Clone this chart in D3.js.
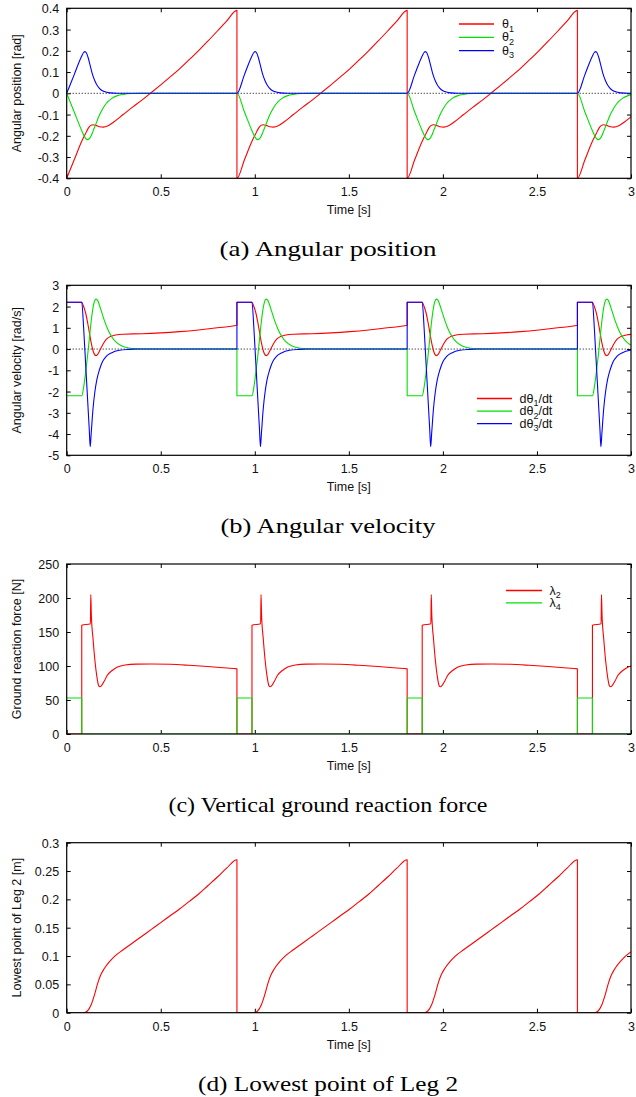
<!DOCTYPE html>
<html>
<head>
<meta charset="utf-8">
<script src="https://cdn.jsdelivr.net/npm/d3@7"></script>
<style>
  body { margin: 0; background: #fff; }
  svg { display: block; font-family: "Liberation Sans", Arial, sans-serif; }
  .tick text { font-size: 12.5px; fill: #111; }
  .tick line { stroke: #000; }
  .caption { font-family: "Liberation Serif", "Times New Roman", serif; font-size: 22px; fill: #000; }
</style>
</head>
<body>
<svg id="chart" width="636" height="1097"></svg>
<script>
// ======== DATA (one gait cycle, repeated every stride) ========
const period = 0.905;              // stride period [s]
const cycleIndex = [0, 1, 2, 3];   // strides visible between 0 and 3 s

const timeTicks = [0, 0.5, 1, 1.5, 2, 2.5, 3];
const posTicks = [-0.4, -0.3, -0.2, -0.1, 0, 0.1, 0.2, 0.3, 0.4];
const velTicks = [-5, -4, -3, -2, -1, 0, 1, 2, 3];
const forceTicks = [0, 50, 100, 150, 200, 250];
const heightTicks = [0, 0.05, 0.1, 0.15, 0.2, 0.25, 0.3];

// (a) angular position [rad], [t, value] within one stride
const theta1 = [[0,-0.4],[0.04,-0.313],[0.08,-0.226],[0.1,-0.19],[0.115,-0.164],[0.128,-0.151],[0.14,-0.148],
  [0.155,-0.151],[0.175,-0.157],[0.194,-0.159],[0.22,-0.153],[0.25,-0.135],[0.3,-0.1],[0.35,-0.065],[0.4,-0.032],
  [0.445,0],[0.5,0.04],[0.55,0.077],[0.6,0.115],[0.65,0.157],[0.7,0.2],[0.75,0.245],[0.8,0.292],[0.85,0.34],[0.905,0.39]];
const theta2 = [[0,0],[0.04,-0.088],[0.08,-0.176],[0.095,-0.205],[0.11,-0.218],[0.12,-0.214],[0.13,-0.2],
  [0.14,-0.178],[0.155,-0.145],[0.17,-0.11],[0.19,-0.075],[0.21,-0.048],[0.24,-0.024],[0.27,-0.011],[0.3,-0.005],
  [0.35,-0.001],[0.4,0],[0.905,0]];
const theta3 = [[0,0],[0.04,0.088],[0.08,0.176],[0.09,0.192],[0.097,0.196],[0.105,0.19],[0.115,0.165],[0.125,0.13],
  [0.135,0.095],[0.15,0.058],[0.165,0.033],[0.18,0.018],[0.2,0.008],[0.23,0.002],[0.27,0],[0.905,0]];

// (b) angular velocity [rad/s]
const omega1 = [[0,2.2],[0.08,2.2],[0.09,2.0],[0.1,1.72],[0.11,1.3],[0.12,0.8],[0.13,0.3],[0.14,-0.08],[0.15,-0.28],
  [0.157,-0.31],[0.165,-0.25],[0.177,-0.05],[0.19,0.18],[0.21,0.45],[0.23,0.58],[0.26,0.66],[0.3,0.7],[0.4,0.72],
  [0.5,0.76],[0.6,0.82],[0.7,0.9],[0.8,1.0],[0.905,1.12]];
const omega2 = [[0,-2.2],[0.08,-2.2],[0.09,-1.8],[0.1,-1.15],[0.11,-0.4],[0.12,0.45],[0.13,1.3],[0.14,1.95],
  [0.15,2.3],[0.157,2.35],[0.165,2.28],[0.18,1.9],[0.2,1.35],[0.22,0.9],[0.24,0.57],[0.26,0.35],[0.29,0.16],
  [0.33,0.05],[0.38,0.01],[0.42,0],[0.905,0]];
const omega3 = [[0,2.2],[0.08,2.2],[0.09,1.0],[0.1,-0.6],[0.11,-2.2],[0.12,-3.8],[0.125,-4.6],[0.13,-4.0],
  [0.14,-2.8],[0.15,-2.0],[0.16,-1.45],[0.175,-0.95],[0.19,-0.6],[0.21,-0.35],[0.24,-0.17],[0.28,-0.06],
  [0.33,-0.015],[0.38,0],[0.905,0]];

// (c) vertical ground reaction force [N]
const lambda2 = [[0,0],[0.08,0],[0.08,160],[0.126,162],[0.128,205],[0.131,175],[0.14,140],[0.15,108],[0.16,85],
  [0.17,71],[0.176,69.5],[0.185,71],[0.2,78],[0.215,86],[0.24,93],[0.27,98.5],[0.31,101.5],[0.37,102.8],
  [0.45,103],[0.55,102.5],[0.65,101],[0.75,99.2],[0.85,97],[0.905,95.8]];
const lambda4 = [[0,53],[0.08,53],[0.08,0],[0.905,0]];

// (d) lowest point of leg 2 [m]
const lowest2 = [[0,0],[0.09,0],[0.11,0.003],[0.13,0.014],[0.15,0.034],[0.163,0.05],[0.18,0.066],[0.2,0.078],
  [0.23,0.091],[0.256,0.1],[0.3,0.111],[0.35,0.123],[0.4,0.135],[0.45,0.147],[0.5,0.159],[0.55,0.171],
  [0.6,0.183],[0.65,0.196],[0.7,0.209],[0.75,0.224],[0.8,0.239],[0.85,0.255],[0.905,0.27]];

// ======== LAYOUT ========
const W = 636, H = 1097;
const LEFT = 66.7, RIGHT = 631, PH = 170;
const RED = '#ff0000', GREEN = '#00e000', BLUE = '#0000ff';

// repeat one stride over the visible strides
const tile = cycle => cycleIndex.flatMap(k => cycle.map(([t, v]) => [t + k * period, v]));

const panels = [
  { top: 8.3, domain: [-0.4, 0.4], ticks: posTicks, yLabel: 'Angular position [rad]', zero: true,
    series: [
      { data: theta1, color: RED, label: ['θ', '1', ''] },
      { data: theta2, color: GREEN, label: ['θ', '2', ''] },
      { data: theta3, color: BLUE, label: ['θ', '3', ''] }],
    legend: { x1: 459, x2: 494, tx: 502, y: 24, dy: 13.3 },
    caption: '(a) Angular position', capW: 217 },
  { top: 285.3, domain: [-5, 3], ticks: velTicks, yLabel: 'Angular velocity [rad/s]', zero: true,
    series: [
      { data: omega1, color: RED, label: ['dθ', '1', '/dt'] },
      { data: omega2, color: GREEN, label: ['dθ', '2', '/dt'] },
      { data: omega3, color: BLUE, label: ['dθ', '3', '/dt'] }],
    legend: { x1: 477, x2: 512, tx: 519.5, y: 398.5, dy: 12.6 },
    caption: '(b) Angular velocity', capW: 215 },
  { top: 564, domain: [0, 250], ticks: forceTicks, yLabel: 'Ground reaction force [N]', zero: false,
    series: [
      { data: lambda2, color: RED, label: ['λ', '2', ''] },
      { data: lambda4, color: GREEN, label: ['λ', '4', ''] }],
    legend: { x1: 506, x2: 542, tx: 549.5, y: 590.5, dy: 12.3 },
    caption: '(c) Vertical ground reaction force', capW: 319 },
  { top: 842.7, domain: [0, 0.3], ticks: heightTicks, yLabel: 'Lowest point of Leg 2 [m]', zero: false,
    series: [{ data: lowest2, color: RED, label: null }],
    legend: null,
    caption: '(d) Lowest point of Leg 2', capW: 260 }
];

const svg = d3.select('#chart');
svg.append('rect').attr('width', W).attr('height', H).attr('fill', '#fff');

const x = d3.scaleLinear().domain([0, 3]).range([LEFT, RIGHT]);
const fmt = d => String(+d.toFixed(2));

panels.forEach((p, i) => {
  const bottom = p.top + PH;
  const y = d3.scaleLinear().domain(p.domain).range([bottom, p.top]);
  const g = svg.append('g');

  // clip for curves
  const clipId = 'clip' + i;
  svg.append('clipPath').attr('id', clipId)
    .append('rect').attr('x', LEFT).attr('y', p.top).attr('width', RIGHT - LEFT).attr('height', PH);

  // axes: inward ticks, mirrored on top/right
  const xb = g.append('g').attr('transform', `translate(0,${bottom})`)
    .call(d3.axisBottom(x).tickValues(timeTicks).tickFormat(fmt).tickSize(-4).tickPadding(9));
  const xt = g.append('g').attr('transform', `translate(0,${p.top})`)
    .call(d3.axisTop(x).tickValues(timeTicks).tickFormat('').tickSize(-4));
  const yl = g.append('g').attr('transform', `translate(${LEFT},0)`)
    .call(d3.axisLeft(y).tickValues(p.ticks).tickFormat(fmt).tickSize(-4).tickPadding(7.5));
  const yr = g.append('g').attr('transform', `translate(${RIGHT},0)`)
    .call(d3.axisRight(y).tickValues(p.ticks).tickFormat('').tickSize(-4));
  [xb, xt, yl, yr].forEach(a => { a.select('.domain').remove(); a.selectAll('text').attr('font-family', null).attr('font-size', null); });
  yl.selectAll('text').attr('dy', '0.36em');

  if (p.zero) {
    g.append('line')
      .attr('x1', LEFT).attr('x2', RIGHT).attr('y1', y(0)).attr('y2', y(0))
      .attr('stroke', '#000').attr('stroke-width', 1).attr('stroke-dasharray', '1,2');
  }

  const line = d3.line()
    .x(d => x(d[0])).y(d => y(d[1]))
    .curve(d3.curveMonotoneX);

  const curves = g.append('g').attr('clip-path', `url(#${clipId})`);
  p.series.forEach(s => {
    curves.append('path')
      .attr('d', line(tile(s.data)))
      .attr('fill', 'none')
      .attr('stroke', s.color)
      .attr('stroke-width', 1.1)
      .attr('stroke-linejoin', 'round');
  });

  // frame
  g.append('rect')
    .attr('x', LEFT).attr('y', p.top).attr('width', RIGHT - LEFT).attr('height', PH)
    .attr('fill', 'none').attr('stroke', '#000').attr('stroke-width', 1.2);

  // legend
  if (p.legend) {
    const L = p.legend;
    p.series.forEach((s, j) => {
      const yy = L.y + j * L.dy;
      g.append('line').attr('x1', L.x1).attr('x2', L.x2).attr('y1', yy).attr('y2', yy)
        .attr('stroke', s.color).attr('stroke-width', 1.3);
      const t = g.append('text').attr('x', L.tx).attr('y', yy + 4)
        .attr('font-size', 12.5).attr('fill', '#111');
      t.append('tspan').text(s.label[0]);
      t.append('tspan').attr('dy', 3.5).attr('font-size', 9).text(s.label[1]);
      if (s.label[2]) t.append('tspan').attr('dy', -3.5).text(s.label[2]);
    });
  }

  // axis titles
  g.append('text')
    .attr('transform', `translate(21,${p.top + PH / 2}) rotate(-90)`)
    .attr('text-anchor', 'middle').attr('font-size', 12.5).attr('fill', '#111')
    .text(p.yLabel);
  g.append('text')
    .attr('x', (LEFT + RIGHT) / 2).attr('y', bottom + 36)
    .attr('text-anchor', 'middle').attr('font-size', 12.5).attr('fill', '#111')
    .text('Time [s]');

  // caption
  g.append('text').attr('class', 'caption')
    .attr('x', 328).attr('y', bottom + 78)
    .attr('text-anchor', 'middle')
    .attr('textLength', p.capW).attr('lengthAdjust', 'spacingAndGlyphs')
    .text(p.caption);
});
</script>
</body>
</html>
